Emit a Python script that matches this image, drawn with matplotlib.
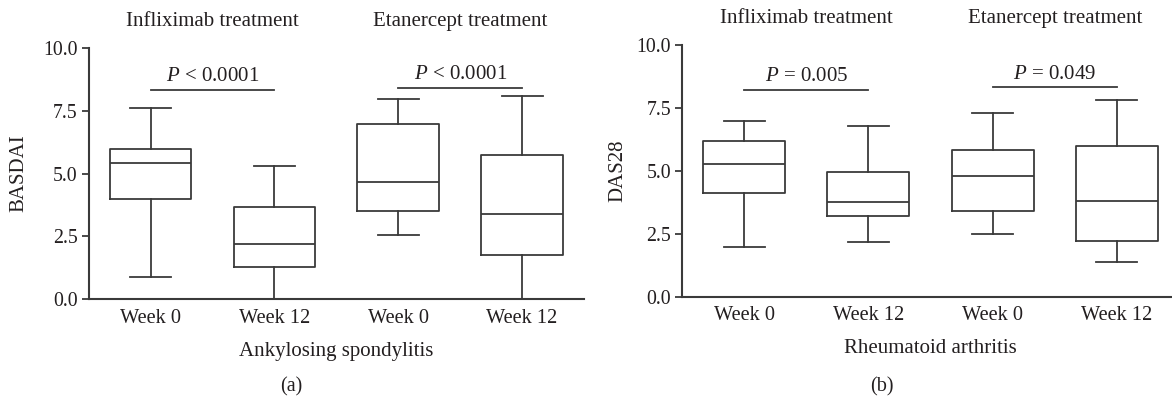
import numpy as np
import matplotlib
matplotlib.use('Agg')
import matplotlib.pyplot as plt
from matplotlib import rc

rc('font', family='Liberation Serif', size=14.3)
rc('mathtext', fontset='custom', rm='Liberation Serif', it='Liberation Serif:italic')

ink = '#231f20'
line = '#3a3a3a'

groups = ['Week 0', 'Week 12', 'Week 0', 'Week 12']
treatments = ['Infliximab treatment', 'Etanercept treatment']

# ankylosing spondylitis, BASDAI
as_lo = [0.89, 0.0, 2.57, 0.0]
as_q1 = [4.0, 1.29, 3.49, 1.77]
as_med = [5.42, 2.19, 4.68, 3.38]
as_q3 = [5.98, 3.65, 6.99, 5.75]
as_hi = [7.59, 5.29, 7.98, 8.09]
as_p = [r'$P$ < 0.0001', r'$P$ < 0.0001']

# rheumatoid arthritis, DAS28
ra_lo = [1.97, 2.19, 2.50, 1.39]
ra_q1 = [4.12, 3.19, 3.41, 2.22]
ra_med = [5.28, 3.77, 4.80, 3.80]
ra_q3 = [6.2, 4.94, 5.82, 6.0]
ra_hi = [6.99, 6.78, 7.30, 7.82]
ra_p = [r'$P$ = 0.005', r'$P$ = 0.049']


def panel(ax, lo, q1, med, q3, hi, pvals, pbar_y, ylabel, xlabel, ylab_x):
    stats = []
    for i in range(len(groups)):
        stats.append(dict(whislo=lo[i], q1=q1[i], med=med[i], q3=q3[i], whishi=hi[i], fliers=[]))
    pos = np.arange(len(groups))
    lw = 1.3
    ax.bxp(stats, positions=pos, widths=0.66, showfliers=False,
           boxprops=dict(color=line, lw=lw), medianprops=dict(color=line, lw=lw),
           whiskerprops=dict(color=line, lw=lw), capprops=dict(color=line, lw=lw),
           capwidths=0.33)
    ax.set_xlim(-0.5, 3.5)
    ax.set_ylim(0, 10)
    ax.set_yticks([0, 2.5, 5, 7.5, 10])
    ax.set_yticklabels(['0.0', '2.5', '5.0', '7.5', '10.0'])
    ax.set_xticks(pos)
    ax.set_xticklabels(groups, fontsize=14.7)
    ax.tick_params(axis='x', length=0, pad=7, colors=ink)
    ax.tick_params(axis='y', length=5, width=1.3, color=line, pad=3, labelcolor=ink)
    for s in ['top', 'right']:
        ax.spines[s].set_visible(False)
    for s in ['left', 'bottom']:
        ax.spines[s].set_color(line)
        ax.spines[s].set_linewidth(1.5)
    ax.set_ylabel(ylabel, fontsize=15, color=ink)
    ax.yaxis.set_label_coords(ylab_x, 0.5)
    ax.set_xlabel(xlabel, fontsize=15, color=ink, labelpad=10)
    for k in range(2):
        x0, x1 = 2 * k, 2 * k + 1
        ax.plot([x0, x1], [pbar_y[k], pbar_y[k]], color=line, lw=1.3, clip_on=False)
        ax.text((x0 + x1) / 2, pbar_y[k] + 0.52, pvals[k], ha='center', va='center',
                fontsize=15, color=ink)
        ax.text((x0 + x1) / 2, 11.05, treatments[k], ha='center', va='center',
                fontsize=15, color=ink, clip_on=False)


fig = plt.figure(figsize=(11.72, 3.98), dpi=100)
ax1 = fig.add_axes([0.0757, 0.2487, 0.4226, 0.6307])
ax2 = fig.add_axes([0.5819, 0.2545, 0.4241, 0.6324])

panel(ax1, as_lo, as_q1, as_med, as_q3, as_hi, as_p, [8.33, 8.41], 'BASDAI',
      'Ankylosing spondylitis', -0.1225)
panel(ax2, ra_lo, ra_q1, ra_med, ra_q3, ra_hi, ra_p, [8.22, 8.32], 'DAS28',
      'Rheumatoid arthritis', -0.109)

fig.text(291 / 1172, 1 - 387 / 398, '(a)', ha='center', va='center', fontsize=14.5, color=ink)
fig.text(882 / 1172, 1 - 387 / 398, '(b)', ha='center', va='center', fontsize=14.5, color=ink)

fig.savefig('out.png', dpi=100)
